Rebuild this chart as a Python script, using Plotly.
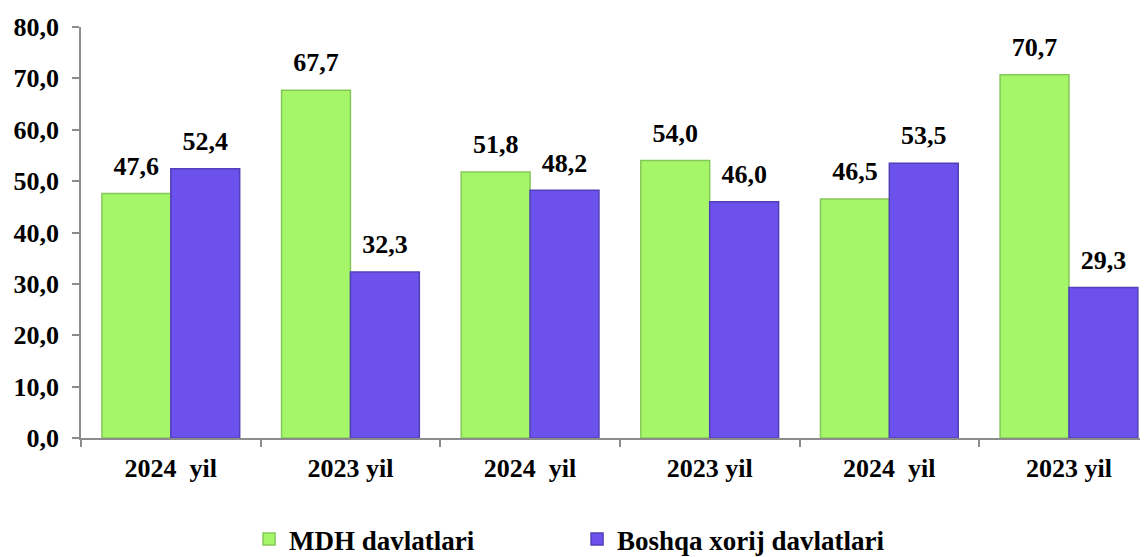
import plotly.graph_objects as go

categories = ["2024\u00a0 yil", "2023 yil", "2024\u00a0 yil", "2023 yil", "2024\u00a0 yil", "2023 yil"]
mdh = [47.6, 67.7, 51.8, 54.0, 46.5, 70.7]
boshqa = [52.4, 32.3, 48.2, 46.0, 53.5, 29.3]
series_names = ["MDH davlatlari", "Boshqa xorij davlatlari"]
y_ticks = [0, 10, 20, 30, 40, 50, 60, 70, 80]

pos = list(range(len(categories)))
FONT = "Liberation Serif, Times New Roman, serif"

def bold_font(size):
    return dict(family=FONT, size=size, color="#000000", weight="bold")

fills = ["#A6F66A", "#6D51EC"]
edges = ["#84C957", "#5240B8"]

fig = go.Figure()
for vals, name, fc, ec in zip([mdh, boshqa], series_names, fills, edges):
    fig.add_trace(go.Bar(
        x=pos, y=vals, name=name,
        marker=dict(color=fc, line=dict(color=ec, width=1.5)),
        hoverinfo="skip",
    ))
for vals, name in zip([mdh, boshqa], series_names):
    fig.add_trace(go.Scatter(
        x=pos, y=vals, mode="markers+text", showlegend=False,
        marker=dict(size=18, color="rgba(0,0,0,0)"),
        text=[f"{v:.1f}".replace(".", ",") for v in vals],
        textposition="top center", textfont=bold_font(26),
        cliponaxis=False, hoverinfo="skip",
    ))

fig.update_layout(
    width=1140, height=549,
    margin=dict(l=73, r=0, t=19, b=119, autoexpand=False),
    paper_bgcolor="white", plot_bgcolor="white",
    separators=",.",
    barmode="group", bargap=0.233, bargroupgap=0,
    scattermode="group", scattergap=0.233,
    font=bold_font(26),
    showlegend=True,
    legend=dict(
        orientation="h", x=0.1575, xanchor="left", y=-0.247, yanchor="middle",
        font=bold_font(27),
        entrywidth=283, itemwidth=30, traceorder="normal",
    ),
)
fig.update_xaxes(
    type="category", tickvals=pos, ticktext=categories,
    range=[-0.5, 5.44], tickson="boundaries", automargin=False,
    showline=True, linecolor="#8C8C8C", linewidth=1.5,
    ticks="outside", ticklen=7, tickcolor="#8C8C8C", tickwidth=1.5,
    tickfont=bold_font(26), ticklabelstandoff=6,
    showgrid=False, zeroline=False,
)
fig.update_yaxes(
    range=[0, 80], tickvals=y_ticks, tickformat=".1f", automargin=False,
    showline=True, linecolor="#8C8C8C", linewidth=1.5,
    ticks="outside", ticklen=7, tickcolor="#8C8C8C", tickwidth=1.5,
    tickfont=bold_font(26), ticklabelstandoff=8,
    showgrid=False, zeroline=False,
)

fig.write_html("out.html")
